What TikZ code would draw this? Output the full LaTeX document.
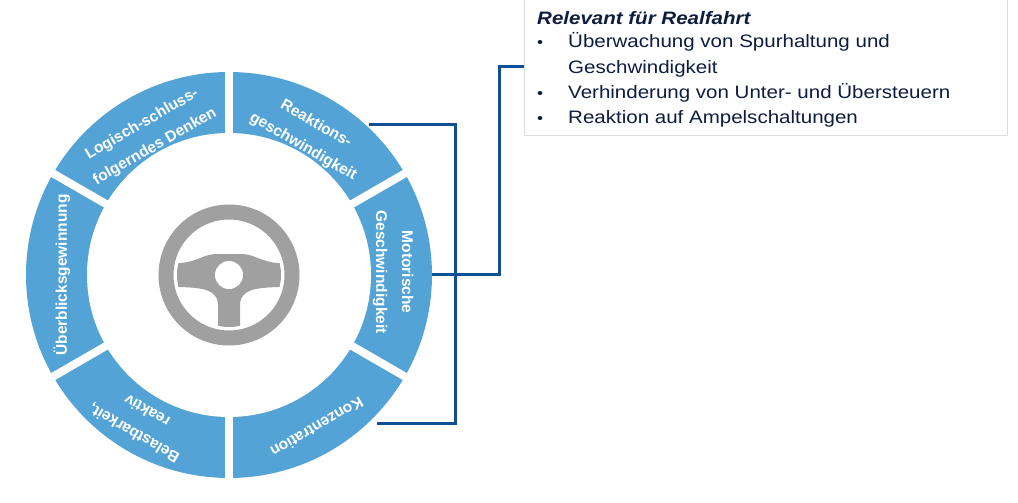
\documentclass[tikz,border=0pt]{standalone}
\usepackage{fontspec}
\setmainfont{Liberation Sans}
\newfontfamily\boxfont[FakeStretch=1.14]{Liberation Sans}
\newfontfamily\segfont{Liberation Sans}
\usepackage{tikz}
\usetikzlibrary{positioning}
\definecolor{ringblue}{RGB}{84,163,214}
\definecolor{linkblue}{RGB}{16,78,150}
\definecolor{wheelgray}{RGB}{160,160,160}
\definecolor{navy}{RGB}{14,28,64}
\definecolor{boxgray}{RGB}{222,222,222}
\tikzset{
  seglabel/.style={text=white, align=center, inner sep=0pt,
    font=\segfont\bfseries\fontsize{15.5}{26}\selectfont},
  gap/.style={white, line width=8pt},
  link/.style={linkblue, line width=3pt},
  relbox/.style={draw=boxgray, line width=0.8pt, fill=white, inner sep=0pt},
  boxtext/.style={text=navy, anchor=base west, inner sep=0pt,
    font=\boxfont\fontsize{18}{24}\selectfont},
  dot/.style={text=navy, anchor=base, inner sep=0pt,
    font=\boxfont\fontsize{15}{18}\selectfont}
}

\begin{document}
\begin{tikzpicture}[x=1pt,y=1pt]
                \useasboundingbox (0,0) rectangle (1018,-503);
                \begin{scope}[shift={(229,-275)}]
                \fill [ringblue] (0,0) circle (203);
                \fill [white] (0,0) circle (142);
                \foreach \a in {30,90,...,330}
                    \draw [gap] (\a:130) -- (\a:210);
                \node [seglabel, rotate=30] (logik) at (120:161) {Logisch-schluss-\\folgerndes Denken};
                \node [seglabel, rotate=-30] (reaktion) at (60:161) {Reaktions-\\geschwindigkeit};
                \node [seglabel, rotate=-90] (motorik) at (1:164) {Motorische\\Geschwindigkeit};
                \node [seglabel, rotate=210] (konz) at (-60:176) {Konzentration};
                \node [seglabel, rotate=150] (belast) at (-121:172) {Belastbarkeit,\\reaktiv};
                \node [seglabel, rotate=90] (ueberblick) at (180:167) {Überblicksgewinnung};
                \draw [wheelgray, line width=15pt] (0,0) circle (63);
                \begin{scope}
                    \clip (0,0) circle (52);
                    \fill [wheelgray] (-60,12) -- (-48,12) .. controls (-30,14) and (-25,21) .. (-12,21)
                        -- (12,21) .. controls (25,21) and (30,14) .. (48,12) -- (60,12) -- (60,-12)
                        -- (48,-12) .. controls (25,-13) and (13,-15) .. (11,-28) -- (11,-60) -- (-11,-60)
                        -- (-11,-28) .. controls (-13,-15) and (-25,-13) .. (-48,-12) -- (-60,-12) -- cycle;
                \end{scope}
                \fill [white] (0,0) circle (14);
                \end{scope}
                \coordinate (reakedge) at (369,-124);
                \coordinate (konzedge) at (377,-423);
                \coordinate (motoredge) at (432,-274);
                \coordinate (turn) at (499,-67);
                \draw [link] (reakedge) -| (455,-274) |- (konzedge);
                \node [relbox, anchor=north west, minimum width=483pt, minimum height=140pt] (rel) at (524,5) {};
                \draw [link] (motoredge) -| (turn) -- (turn -| rel.west);
                \node [boxtext, font=\boxfont\bfseries\itshape\fontsize{18}{24}\selectfont] (title) at (537,-25) {Relevant für Realfahrt};
                \node [dot] (b1) at (540,-48) {•};
                \node [dot] (b2) at (540,-99) {•};
                \node [dot] (b3) at (540,-123) {•};
                \node [boxtext] (l1) at (568,-48) {Überwachung von Spurhaltung und};
                \node [boxtext] (l2) at (568,-74) {Geschwindigkeit};
                \node [boxtext] (l3) at (568,-99) {Verhinderung von Unter- und Übersteuern};
                \node [boxtext] (l4) at (568,-123) {Reaktion auf Ampelschaltungen};
            \end{tikzpicture}
\end{document}
